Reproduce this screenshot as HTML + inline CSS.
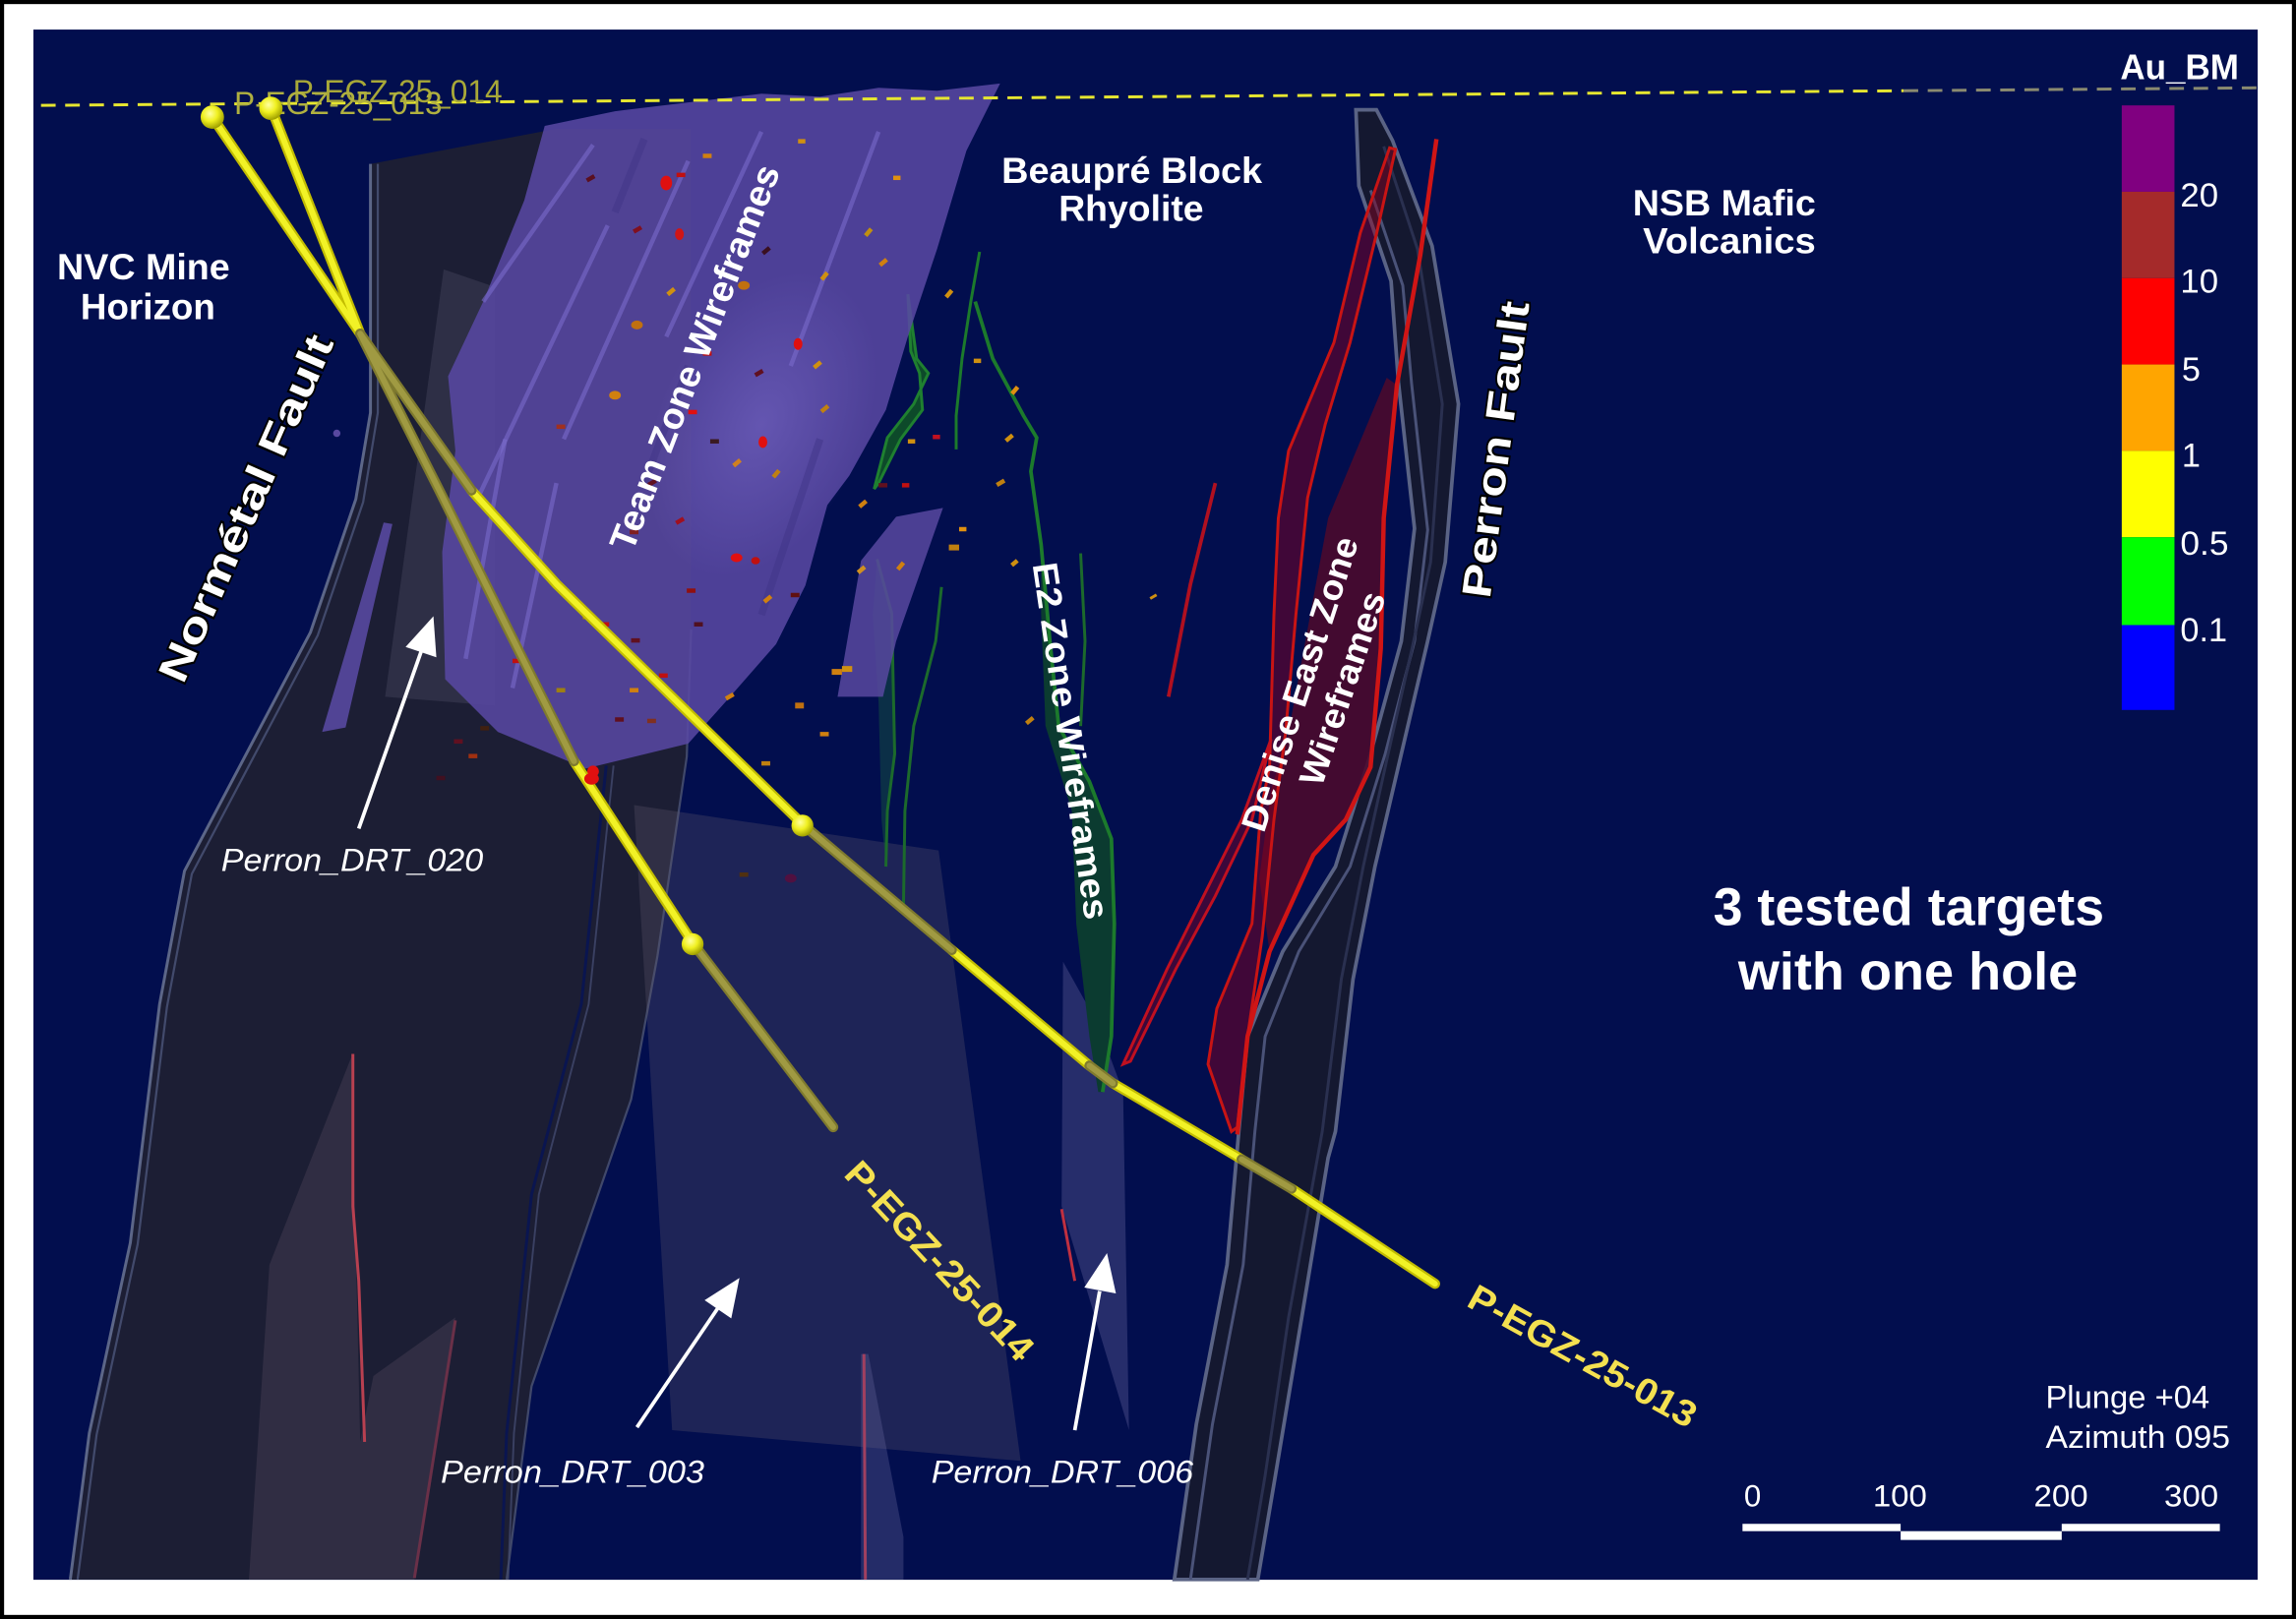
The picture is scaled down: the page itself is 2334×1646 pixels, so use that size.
<!DOCTYPE html>
<html><head><meta charset="utf-8"><style>
html,body{margin:0;padding:0;background:#fff;}
svg{display:block;}
text{font-family:"Liberation Sans",Arial,sans-serif;}
</style></head><body>
<svg width="2334" height="1646" viewBox="0 0 1568 1106" preserveAspectRatio="none" xmlns="http://www.w3.org/2000/svg">
<defs>
<radialGradient id="ball" cx="40%" cy="35%" r="65%"><stop offset="0" stop-color="#ffffa0"/><stop offset="0.5" stop-color="#f0f020"/><stop offset="1" stop-color="#a0a000"/></radialGradient>
<radialGradient id="pglow" cx="50%" cy="50%" r="50%"><stop offset="0" stop-color="#8070d0" stop-opacity="0.45"/><stop offset="1" stop-color="#8070d0" stop-opacity="0"/></radialGradient>
</defs>
<rect x="1.4" y="1.4" width="1565.2" height="1103.2" fill="#fff" stroke="#000" stroke-width="2.8"/>
<rect x="22.8" y="20.2" width="1519" height="1059" fill="#020e4e"/>

<!-- Normetal fault -->
<polygon points="253,112 253,282 243,341 212,432 164,523 126,595 109,686 89,849 61,979 48,1079 346,1079 363,947 397,849 431,751 449,653 469,517 472,430 472,88 380,88" fill="#1c1e34"/>
<polyline points="253,112 253,282 243,341 212,432 164,523 126,595 109,686 89,849 61,979 48,1079" fill="none" stroke="#5c6688" stroke-width="2"/>
<polyline points="258,112 258,282 248,343 217,434 169,525 131,597 114,688 94,850 66,980 53,1079" fill="none" stroke="#424a6c" stroke-width="1.5"/>
<polyline points="414,523 397,686 363,816 346,979 342,1079" fill="none" stroke="#0a1550" stroke-width="2"/>
<polyline points="419,523 402,686 368,816 351,979 347,1079" fill="none" stroke="#3a4062" stroke-width="1.3"/>
<polyline points="472,430 469,517 449,653 431,751 397,849 363,947 346,1079" fill="none" stroke="#40486a" stroke-width="1.5"/>
<polygon points="303,184 338,196 338,482 263,476" fill="#5a5a70" fill-opacity="0.3"/>
<polygon points="240,722 246,985 255,940 311,900 283,1079 170,1079 184,864" fill="#605468" fill-opacity="0.3"/>
<polyline points="241,720 241,824 245,875 249,985" fill="none" stroke="#b84050" stroke-width="2"/>
<polyline points="311,902 283,1078" fill="none" stroke="#6a3048" stroke-width="2"/>

<!-- DRT panels -->
<polygon points="433,550 641,581 697,998 459,977" fill="#5f5a6e" fill-opacity="0.3"/>
<polygon points="588,925 593,925 617,1050 617,1079 588,1079" fill="#64649a" fill-opacity="0.35"/>
<line x1="590" y1="925" x2="591" y2="1079" stroke="#a04060" stroke-width="2"/>
<polygon points="726,657 750,700 767,746 771,977 725,824" fill="#60609a" fill-opacity="0.38"/>
<line x1="725" y1="826" x2="734" y2="875" stroke="#c03040" stroke-width="2"/>

<!-- Perron fault band -->
<polygon points="926,75 928,127 950,192 955,261 966,361 957,438 936,515 912,592 876,650 852,708 846,773 838,864 817,973 802,1079 859,1079 871,1008 889,900 907,791 912,773 924,669 939,592 957,515 975,438 987,384 996,276 978,168 951,96 940,75" fill="#141830" stroke="#5a6385" stroke-width="2.5"/>
<polyline points="936,130 958,195 964,262 975,362 966,438 946,515 922,592 887,650 864,708 857,773 849,864 828,973 813,1079" fill="none" stroke="#4a5278" stroke-width="2"/>
<polyline points="945,100 968,170 985,276 977,384 965,440 948,515 931,592 916,669 903,773 880,900 864,1008 852,1079" fill="none" stroke="#2a3050" stroke-width="2"/>

<!-- Denise East red -->
<polygon points="947,258 954,263 945,354 943,443 936,524 919,560 897,584 867,650 860,600 868,540 880,500 907,354" fill="#4a0a2e" fill-opacity="0.9"/>
<polygon points="949,101 929,159 911,234 880,308 873,354 870,420 867,524 861,554 855,631 831,689 825,727 841,773 845,770 852,708 862,640 870,560 878,500 885,420 893,340 905,290 922,234 940,160 953,102" fill="#8c001e" fill-opacity="0.45" stroke="#c81414" stroke-width="2"/>
<polyline points="981,95 970,174 954,263 945,354 943,443 936,524 919,560 897,584 867,650 852,708 845,775" fill="none" stroke="#d01515" stroke-width="3"/>
<polygon points="868,505 848,560 822,612 797,662 767,727 772,725 803,662 830,612 855,560" fill="#900020" fill-opacity="0.4" stroke="#c01020" stroke-width="2"/>
<polyline points="830,330 813,399 798,476" fill="none" stroke="#b01020" stroke-width="2.5"/>

<!-- Green E2 -->
<polygon points="711,372 711,419 714,496 732,554 735,631 744,708 750,746 753,746 759,708 761,631 759,573 744,534 723,496 717,438" fill="#0b3b30"/>
<polygon points="620,201 626,245 634,255 624,276 606,299 597,334 600,330 615,300 630,280 628,255 622,240" fill="#0d4a2a" stroke="#1f8030" stroke-width="2"/>
<polyline points="669,172 663,206 657,245 653,284 653,307" fill="none" stroke="#1c7a2c" stroke-width="2"/>
<polyline points="666,206 678,245 699,284 708,299 704,322 711,372 717,438 723,496 744,534 759,573 761,631 759,708 753,746" fill="none" stroke="#1c7a2c" stroke-width="2.5"/>
<polygon points="599,382 609,419 611,515 606,554 605,592 602,560 600,480 596,420" fill="#145040" fill-opacity="0.5"/>
<polyline points="599,382 609,419 611,515 606,554 605,592" fill="none" stroke="#1c6a2c" stroke-width="2"/>
<polyline points="643,401 639,438 624,496 618,554 617,619" fill="none" stroke="#1c6a2c" stroke-width="2"/>
<polyline points="738,378 741,438 738,496" fill="none" stroke="#1c6a2c" stroke-width="2"/>

<!-- Team zone purple -->
<polygon points="372,86 420,76 470,70 520,64 560,66 600,60 640,62 683,57 660,103 640,170 620,230 605,280 580,325 565,345 550,400 530,440 495,480 470,508 400,525 340,500 304,464 302,377 311,308 306,257 330,206 358,137" fill="#5848a2" fill-opacity="0.88"/>
<ellipse cx="520" cy="290" rx="70" ry="110" fill="url(#pglow)" transform="rotate(25 520 290)"/>
<g stroke="#7a6acb" stroke-width="3" stroke-opacity="0.6" fill="none">
<line x1="405" y1="99" x2="330" y2="206"/>
<line x1="415" y1="154" x2="325" y2="343"/>
<line x1="470" y1="110" x2="385" y2="300"/>
<line x1="345" y1="300" x2="318" y2="450"/>
<line x1="520" y1="90" x2="455" y2="230"/>
<line x1="600" y1="90" x2="540" y2="250"/>
<line x1="380" y1="330" x2="350" y2="470"/>
</g>
<g stroke="#3f3284" stroke-width="5" stroke-opacity="0.45" fill="none">
<line x1="440" y1="95" x2="420" y2="145"/>
<line x1="560" y1="300" x2="520" y2="420"/>
<line x1="470" y1="250" x2="440" y2="330"/>
</g>
<polygon points="612,353 644,347 612,438 603,476 572,476 588,383" fill="#5848a0" fill-opacity="0.85"/>
<polygon points="262,357 268,358 236,497 220,500" fill="#5848a0" fill-opacity="0.9"/>
<circle cx="230" cy="296" r="2.5" fill="#5848a0"/>

<!-- sample dots -->
<g>
<rect x="400" y="122" width="6" height="3" fill="#5a1020" transform="rotate(-30 400 122)"/>
<ellipse cx="455" cy="125" rx="4" ry="5" fill="#e01010"/>
<rect x="462" y="118" width="6" height="3" fill="#c01010"/>
<ellipse cx="464" cy="160" rx="3" ry="4" fill="#d01515"/>
<rect x="432" y="157" width="6" height="3" fill="#801020" transform="rotate(-30 432 157)"/>
<ellipse cx="508" cy="195" rx="4" ry="3" fill="#c07010"/>
<rect x="520" y="172" width="6" height="3" fill="#3a1020" transform="rotate(-40 520 172)"/>
<ellipse cx="545" cy="235" rx="3" ry="4" fill="#e01010"/>
<rect x="515" y="255" width="6" height="3" fill="#601020" transform="rotate(-30 515 255)"/>
<ellipse cx="521" cy="302" rx="3" ry="4" fill="#e01010"/>
<rect x="500" y="317" width="6" height="3" fill="#d08020" transform="rotate(-40 500 317)"/>
<rect x="527" y="325" width="6" height="3" fill="#c08010" transform="rotate(-50 527 325)"/>
<rect x="485" y="300" width="6" height="3" fill="#3a1a20"/>
<rect x="442" y="330" width="6" height="3" fill="#601020" transform="rotate(-30 442 330)"/>
<rect x="430" y="362" width="6" height="3" fill="#802020"/>
<rect x="461" y="356" width="6" height="3" fill="#a01020" transform="rotate(-30 461 356)"/>
<ellipse cx="503" cy="381" rx="4" ry="3" fill="#e01010"/>
<ellipse cx="516" cy="383" rx="3" ry="2.5" fill="#c01010"/>
<rect x="521" y="410" width="6" height="3" fill="#d08010" transform="rotate(-40 521 410)"/>
<rect x="469" y="402" width="6" height="3" fill="#901010"/>
<rect x="474" y="425" width="6" height="3" fill="#501020"/>
<rect x="431" y="436" width="6" height="3" fill="#601020"/>
<rect x="410" y="425" width="6" height="3" fill="#c01010"/>
<rect x="398" y="420" width="5" height="3" fill="#a08010"/>
<ellipse cx="405" cy="527" rx="4" ry="4" fill="#e01010"/>
<rect x="420" y="490" width="6" height="3" fill="#601020"/>
<rect x="442" y="491" width="6" height="3" fill="#803020"/>
<rect x="495" y="476" width="6" height="3" fill="#d08010" transform="rotate(-30 495 476)"/>
<rect x="543" y="480" width="6" height="4" fill="#c07010"/>
<rect x="540" y="405" width="6" height="3" fill="#601010"/>
<rect x="575" y="455" width="7" height="4" fill="#d09010"/>
<rect x="586" y="345" width="6" height="3" fill="#d08010" transform="rotate(-40 586 345)"/>
<rect x="600" y="330" width="6" height="3" fill="#601020"/>
<rect x="612" y="388" width="6" height="3" fill="#d08010" transform="rotate(-50 612 388)"/>
<rect x="648" y="372" width="7" height="4" fill="#c08010"/>
<rect x="585" y="390" width="6" height="3" fill="#d09020" transform="rotate(-40 585 390)"/>
<rect x="645" y="202" width="6" height="3" fill="#d09010" transform="rotate(-50 645 202)"/>
<rect x="680" y="330" width="6" height="3" fill="#c08010" transform="rotate(-30 680 330)"/>
<rect x="686" y="300" width="6" height="3" fill="#d09010" transform="rotate(-40 686 300)"/>
<rect x="690" y="268" width="6" height="3" fill="#e09010" transform="rotate(-50 690 268)"/>
<rect x="700" y="493" width="6" height="3" fill="#c08010" transform="rotate(-40 700 493)"/>
<rect x="690" y="385" width="5" height="3" fill="#d09010" transform="rotate(-40 690 385)"/>
<rect x="785" y="408" width="5" height="2" fill="#d09010" transform="rotate(-30 785 408)"/>
<rect x="568" y="457" width="7" height="4" fill="#d08010"/>
<ellipse cx="540" cy="600" rx="4" ry="3" fill="#501040"/>
<rect x="505" y="596" width="6" height="3" fill="#503010"/>
<rect x="310" y="505" width="6" height="3" fill="#601020"/>
<rect x="320" y="515" width="6" height="3" fill="#a03010"/>
<rect x="298" y="530" width="6" height="3" fill="#401020"/>
<rect x="328" y="496" width="6" height="3" fill="#402010"/>
<rect x="455" y="200" width="6" height="3" fill="#d09010" transform="rotate(-40 455 200)"/>
<ellipse cx="435" cy="222" rx="4" ry="3" fill="#c07010"/>
<rect x="480" y="240" width="6" height="3" fill="#c01010"/>
<rect x="560" y="190" width="6" height="3" fill="#d09010" transform="rotate(-50 560 190)"/>
<rect x="590" y="160" width="6" height="3" fill="#c09010" transform="rotate(-50 590 160)"/>
<rect x="600" y="180" width="6" height="3" fill="#d08010" transform="rotate(-40 600 180)"/>
<rect x="610" y="120" width="5" height="3" fill="#e09010"/>
<rect x="545" y="95" width="5" height="3" fill="#d09010"/>
<rect x="480" y="105" width="6" height="3" fill="#d08010"/>
<ellipse cx="420" cy="270" rx="4" ry="3" fill="#d08010"/>
<rect x="470" y="280" width="6" height="3" fill="#e01010"/>
<rect x="380" y="290" width="6" height="3" fill="#a03020"/>
<rect x="560" y="280" width="6" height="3" fill="#c08010" transform="rotate(-40 560 280)"/>
<rect x="555" y="250" width="6" height="3" fill="#d09010" transform="rotate(-40 555 250)"/>
<rect x="520" y="520" width="6" height="3" fill="#c08010"/>
<rect x="560" y="500" width="6" height="3" fill="#d08010"/>
<rect x="450" y="460" width="6" height="3" fill="#c01010"/>
<rect x="430" y="470" width="6" height="3" fill="#d08010"/>
<rect x="380" y="470" width="6" height="3" fill="#a08010"/>
<rect x="350" y="450" width="6" height="3" fill="#c01010"/>
<rect x="655" y="360" width="5" height="3" fill="#e09010"/>
<rect x="620" y="300" width="5" height="3" fill="#d09010"/>
<rect x="637" y="297" width="5" height="3" fill="#c01020"/>
<rect x="665" y="245" width="5" height="3" fill="#d09010"/>
<rect x="616" y="330" width="5" height="3" fill="#c01010"/>
</g>

<!-- dashed surface line -->
<line x1="28" y1="72" x2="1300" y2="62" stroke="#e6e630" stroke-width="2" stroke-dasharray="10 6.5"/>
<line x1="1300" y1="62" x2="1541" y2="60" stroke="#8a8a70" stroke-width="2" stroke-dasharray="10 6.5"/>
<text x="200" y="70" font-size="22" fill="#a8a838" textLength="143" lengthAdjust="spacingAndGlyphs">P-EGZ-25_014</text>
<text x="160" y="78" font-size="22" fill="#b0b040" textLength="142" lengthAdjust="spacingAndGlyphs">P-EGZ-25_013</text>

<!-- drill holes -->
<g fill="none" stroke-linecap="round" stroke-linejoin="round">
<g stroke="#c2bc00" stroke-width="7">
<polyline points="145,80 246,228"/>
<polyline points="322,335 380,399 548,563"/>
<polyline points="650,649 744,728"/>
<polyline points="760,740 848,792"/>
<polyline points="882,812 980,877"/>
<polyline points="186,76 246,228"/>
<polyline points="392,520 473,644"/>
</g>
<g stroke="#f2f226" stroke-width="4">
<polyline points="145,80 246,228"/>
<polyline points="322,335 380,399 548,563"/>
<polyline points="650,649 744,728"/>
<polyline points="760,740 848,792"/>
<polyline points="882,812 980,877"/>
<polyline points="186,76 246,228"/>
<polyline points="392,520 473,644"/>
</g>
<g stroke="#7f7a2e" stroke-width="7">
<polyline points="246,228 322,335"/>
<polyline points="548,563 650,649"/>
<polyline points="744,728 760,740"/>
<polyline points="848,792 882,812"/>
<polyline points="246,228 300,335 345,426 392,520"/>
<polyline points="473,644 569,770"/>
</g>
<g stroke="#a09a42" stroke-width="4">
<polyline points="246,228 322,335"/>
<polyline points="548,563 650,649"/>
<polyline points="744,728 760,740"/>
<polyline points="848,792 882,812"/>
<polyline points="246,228 300,335 345,426 392,520"/>
<polyline points="473,644 569,770"/>
</g>
</g>
<ellipse cx="404" cy="532" rx="5" ry="4" fill="#e01010"/>
<circle cx="145" cy="80" r="8" fill="url(#ball)"/>
<circle cx="185" cy="74" r="8" fill="url(#ball)"/>
<circle cx="548" cy="564" r="7.5" fill="url(#ball)"/>
<circle cx="473" cy="645" r="7.5" fill="url(#ball)"/>

<!-- region labels -->
<g font-weight="bold" fill="#fff" font-size="25">
<text x="39" y="191" textLength="118" lengthAdjust="spacingAndGlyphs">NVC Mine</text>
<text x="55" y="218" textLength="92" lengthAdjust="spacingAndGlyphs">Horizon</text>
<text x="684" y="125" textLength="178" lengthAdjust="spacingAndGlyphs">Beaupré Block</text>
<text x="723" y="151" textLength="99" lengthAdjust="spacingAndGlyphs">Rhyolite</text>
<text x="1115" y="147" textLength="125" lengthAdjust="spacingAndGlyphs">NSB Mafic</text>
<text x="1122" y="173" textLength="118" lengthAdjust="spacingAndGlyphs">Volcanics</text>
</g>
<g font-weight="bold" fill="#fff" font-size="36">
<text x="1170" y="632" textLength="267" lengthAdjust="spacingAndGlyphs">3 tested targets</text>
<text x="1187" y="676" textLength="232" lengthAdjust="spacingAndGlyphs">with one hole</text>
</g>

<!-- rotated labels -->
<g font-weight="bold" text-anchor="middle">
<text transform="translate(167.5,347) rotate(-66.2)" y="10" font-size="28" fill="#fff" stroke="#000" stroke-width="2.5" paint-order="stroke" textLength="256" lengthAdjust="spacingAndGlyphs">Normétal Fault</text>
<text transform="translate(1021,307) rotate(-82.4)" y="10" font-size="28" fill="#fff" stroke="#000" stroke-width="2.5" paint-order="stroke" textLength="204" lengthAdjust="spacingAndGlyphs">Perron Fault</text>
<text transform="translate(474,244) rotate(-68.8)" y="9" font-size="25" fill="#fff" textLength="280" lengthAdjust="spacingAndGlyphs">Team Zone Wireframes</text>
<text transform="translate(732,506) rotate(81.6)" y="9" font-size="24" fill="#fff" textLength="246" lengthAdjust="spacingAndGlyphs">E2 Zone Wireframes</text>
<text transform="translate(887,467) rotate(-72)" y="9" font-size="24" fill="#fff" textLength="210" lengthAdjust="spacingAndGlyphs">Denise East Zone</text>
<text transform="translate(916,470) rotate(-71.4)" y="9" font-size="24" fill="#fff" textLength="138" lengthAdjust="spacingAndGlyphs">Wireframes</text>
<text transform="translate(642,861) rotate(47)" y="9" font-size="25" fill="#f4e050" textLength="176" lengthAdjust="spacingAndGlyphs">P-EGZ-25-014</text>
<text transform="translate(1081,926) rotate(29)" y="9" font-size="25" fill="#f4e050" textLength="174" lengthAdjust="spacingAndGlyphs">P-EGZ-25-013</text>
</g>

<!-- DRT labels and arrows -->
<g font-style="italic" fill="#fff" font-size="22">
<text x="151" y="595" textLength="179" lengthAdjust="spacingAndGlyphs">Perron_DRT_020</text>
<text x="301" y="1013" textLength="180" lengthAdjust="spacingAndGlyphs">Perron_DRT_003</text>
<text x="636" y="1013" textLength="179" lengthAdjust="spacingAndGlyphs">Perron_DRT_006</text>
</g>
<g stroke="#fff" stroke-width="2.5">
<line x1="245" y1="566" x2="288" y2="444"/>
<line x1="435" y1="975" x2="490" y2="894"/>
<line x1="734" y1="977" x2="751" y2="882"/>
</g>
<g fill="#fff">
<polygon points="296,421 298,449 277,442"/>
<polygon points="505,873 499.4,900.6 481.2,888.2"/>
<polygon points="756,856 762.1,883.6 740.5,879.6"/>
</g>

<!-- colorbar -->
<text x="1448" y="54" font-size="24" font-weight="bold" fill="#fff" textLength="81" lengthAdjust="spacingAndGlyphs">Au_BM</text>
<rect x="1449" y="72" width="36" height="59" fill="#800080"/>
<rect x="1449" y="131" width="36" height="59" fill="#a52a2a"/>
<rect x="1449" y="190" width="36" height="59" fill="#ff0000"/>
<rect x="1449" y="249" width="36" height="59" fill="#ffa500"/>
<rect x="1449" y="308" width="36" height="59" fill="#ffff00"/>
<rect x="1449" y="367" width="36" height="60" fill="#00ff00"/>
<rect x="1449" y="427" width="36" height="58" fill="#0000ff"/>
<g fill="#fff" font-size="23">
<text x="1489" y="141" textLength="26" lengthAdjust="spacingAndGlyphs">20</text>
<text x="1489" y="200" textLength="26" lengthAdjust="spacingAndGlyphs">10</text>
<text x="1490" y="260">5</text>
<text x="1490" y="319">1</text>
<text x="1489" y="379" textLength="33" lengthAdjust="spacingAndGlyphs">0.5</text>
<text x="1489" y="438" textLength="32" lengthAdjust="spacingAndGlyphs">0.1</text>
</g>

<!-- orientation and scale -->
<g fill="#fff" font-size="22">
<text x="1397" y="962" textLength="112" lengthAdjust="spacingAndGlyphs">Plunge +04</text>
<text x="1397" y="989" textLength="126" lengthAdjust="spacingAndGlyphs">Azimuth 095</text>
<text x="1191" y="1029" font-size="21">0</text>
<text x="1279" y="1029" font-size="21" textLength="37" lengthAdjust="spacingAndGlyphs">100</text>
<text x="1389" y="1029" font-size="21" textLength="37" lengthAdjust="spacingAndGlyphs">200</text>
<text x="1478" y="1029" font-size="21" textLength="37" lengthAdjust="spacingAndGlyphs">300</text>
</g>
<rect x="1190" y="1041" width="108" height="5" fill="#fff"/>
<rect x="1298" y="1046" width="110" height="6" fill="#fff"/>
<rect x="1408" y="1041" width="108" height="5" fill="#fff"/>
</svg>
</body></html>
